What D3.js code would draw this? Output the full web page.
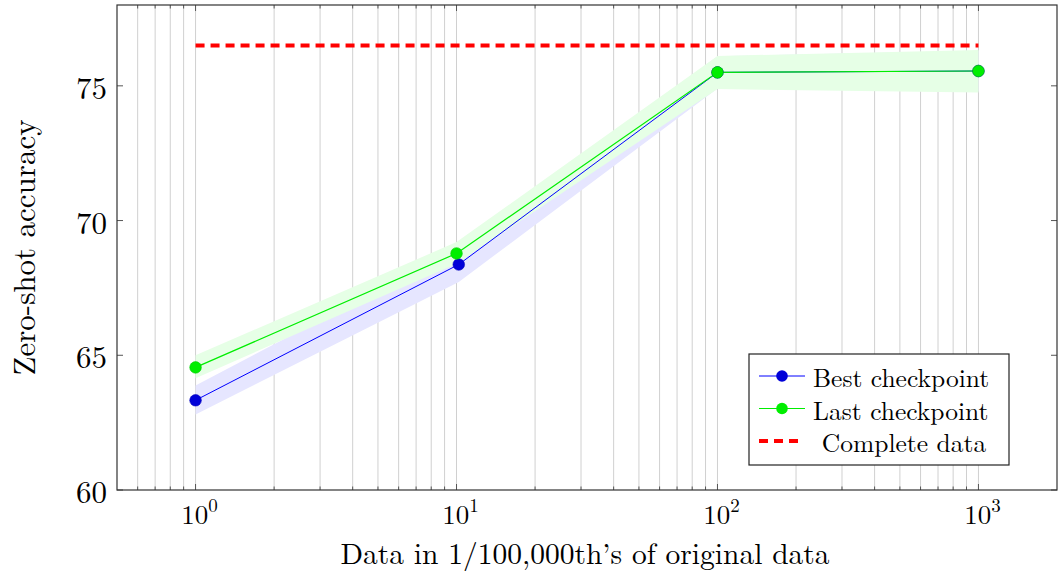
<!DOCTYPE html>
<html>
<head>
<meta charset="utf-8">
<script src="https://cdn.jsdelivr.net/npm/d3@7"></script>
<style>
  body { margin: 0; background: #fff; }
  text { font-family: "Latin Modern Roman", "DejaVu Serif", "Liberation Serif", serif; }
</style>
</head>
<body>
<div id="chart"></div>
<script>
// data
const xBest = [1, 10.2, 100, 1000];
const best = [63.33, 68.37, 75.5, 75.55];
const bestLow = [62.8, 67.72, 74.9, 74.8];
const bestHigh = [63.88, 69.0, 76.1, 76.3];

const xLast = [1, 10, 100, 1000];
const last = [64.55, 68.78, 75.5, 75.55];
const lastLow = [64.15, 68.4, 74.88, 74.75];
const lastHigh = [65.0, 69.2, 76.11, 76.33];

const completeX = [1, 1000];
const completeY = 76.5;

const yTicks = [60, 65, 70, 75];
const xTicks = [1, 10, 100, 1000];
const legendLabels = ["Best checkpoint", "Last checkpoint", "Complete data"];

const width = 1059, height = 574;
const margin = {top: 5, right: 2, bottom: 84, left: 117};
const visWidth = width - margin.left - margin.right;
const visHeight = height - margin.top - margin.bottom;

const svg = d3.select("#chart").append("svg")
  .attr("width", width)
  .attr("height", height);

const g = svg.append("g")
  .attr("transform", `translate(${margin.left},${margin.top})`);

const x = d3.scaleLog().domain([0.5, 2000]).range([0, visWidth]);
const y = d3.scaleLinear().domain([60, 78]).range([visHeight, 0]);

// vertical grid, major + minor
const gridVals = [];
for (let e = -1; e <= 3; e++) {
  for (let m = 1; m <= 9; m++) {
    const v = m * Math.pow(10, e);
    if (v > 0.5 && v < 2000) gridVals.push(v);
  }
}
g.append("g").selectAll("line")
  .data(gridVals)
  .join("line")
  .attr("x1", d => x(d)).attr("x2", d => x(d))
  .attr("y1", 0).attr("y2", visHeight)
  .attr("stroke", "#d0d0d0")
  .attr("stroke-width", 1);

// tick marks on frame (inward)
const ticks = g.append("g").attr("stroke", "#555").attr("stroke-width", 1);
gridVals.forEach(v => {
  const len = xTicks.includes(v) ? 6 : 3.5;
  ticks.append("line").attr("x1", x(v)).attr("x2", x(v)).attr("y1", visHeight).attr("y2", visHeight - len);
  ticks.append("line").attr("x1", x(v)).attr("x2", x(v)).attr("y1", 0).attr("y2", len);
});
yTicks.forEach(v => {
  ticks.append("line").attr("x1", 0).attr("x2", 6).attr("y1", y(v)).attr("y2", y(v));
  ticks.append("line").attr("x1", visWidth).attr("x2", visWidth - 6).attr("y1", y(v)).attr("y2", y(v));
});

// bands
const bestRows = xBest.map((d, i) => ({x: d, y: best[i], lo: bestLow[i], hi: bestHigh[i]}));
const lastRows = xLast.map((d, i) => ({x: d, y: last[i], lo: lastLow[i], hi: lastHigh[i]}));

const area = d3.area()
  .x(d => x(d.x))
  .y0(d => y(d.lo))
  .y1(d => y(d.hi));

g.append("path").datum(bestRows).attr("d", area).attr("fill", "#e6e6ff");
g.append("path").datum(lastRows).attr("d", area).attr("fill", "#e6ffe6");

// complete data line
g.append("line")
  .attr("x1", x(completeX[0])).attr("x2", x(completeX[1]))
  .attr("y1", y(completeY)).attr("y2", y(completeY))
  .attr("stroke", "#ff0000")
  .attr("stroke-width", 4)
  .attr("stroke-dasharray", "9,6");

const line = d3.line().x(d => x(d.x)).y(d => y(d.y));

g.append("path").datum(bestRows).attr("d", line)
  .attr("fill", "none").attr("stroke", "#0000ff").attr("stroke-width", 1);
g.append("path").datum(lastRows).attr("d", line)
  .attr("fill", "none").attr("stroke", "#00ee00").attr("stroke-width", 1.2);

g.append("g").selectAll("circle")
  .data(bestRows).join("circle")
  .attr("cx", d => x(d.x)).attr("cy", d => y(d.y)).attr("r", 5.8)
  .attr("fill", "#0000d8").attr("stroke", "#0000bb").attr("stroke-width", 0.6);
g.append("g").selectAll("circle")
  .data(lastRows).join("circle")
  .attr("cx", d => x(d.x)).attr("cy", d => y(d.y)).attr("r", 5.8)
  .attr("fill", "#00ee00").attr("stroke", "#00cc00").attr("stroke-width", 0.6);

// frame
g.append("rect")
  .attr("width", visWidth).attr("height", visHeight)
  .attr("fill", "none").attr("stroke", "#333").attr("stroke-width", 1.2);

// y tick labels
g.append("g").selectAll("text")
  .data(yTicks).join("text")
  .attr("x", -10).attr("y", d => y(d))
  .attr("text-anchor", "end")
  .attr("dominant-baseline", "central")
  .attr("font-size", 31)
  .text(d => d);

// x tick labels 10^n
const xl = g.append("g").selectAll("text")
  .data(xTicks).join("text")
  .attr("x", d => x(d) + 4)
  .attr("y", visHeight + 34)
  .attr("text-anchor", "middle")
  .attr("font-size", 27);
xl.append("tspan").text("10");
xl.append("tspan")
  .attr("dy", -12)
  .attr("font-size", 19)
  .text(d => Math.round(Math.log10(d)));

// axis titles
g.append("text")
  .attr("x", visWidth / 2 - 2)
  .attr("y", visHeight + 74)
  .attr("text-anchor", "middle")
  .attr("font-size", 29.5)
  .text("Data in 1/100,000th\u2019s of original data");

g.append("text")
  .attr("transform", `translate(${-82},${visHeight / 2}) rotate(-90)`)
  .attr("text-anchor", "middle")
  .attr("font-size", 31)
  .text("Zero-shot accuracy");

// legend
const legend = svg.append("g").attr("transform", "translate(749,354)");
legend.append("rect")
  .attr("width", 260).attr("height", 111)
  .attr("fill", "#fff").attr("stroke", "#222").attr("stroke-width", 1.2);

const legendColors = [["#0000ff", "#0000d8"], ["#00ee00", "#00ee00"]];
legendLabels.forEach((lab, i) => {
  const ly = 22 + i * 32.5;
  if (i < 2) {
    legend.append("line")
      .attr("x1", 10).attr("x2", 56).attr("y1", ly).attr("y2", ly)
      .attr("stroke", legendColors[i][0]).attr("stroke-width", 1);
    legend.append("circle")
      .attr("cx", 33).attr("cy", ly).attr("r", 5.8)
      .attr("fill", legendColors[i][1]);
    legend.append("text")
      .attr("x", 64).attr("y", ly)
      .attr("dominant-baseline", "central")
      .attr("font-size", 25.5)
      .text(lab);
  } else {
    legend.append("line")
      .attr("x1", 10).attr("x2", 50).attr("y1", ly).attr("y2", ly)
      .attr("stroke", "#ff0000").attr("stroke-width", 4)
      .attr("stroke-dasharray", "9,6");
    legend.append("text")
      .attr("x", 155).attr("y", ly)
      .attr("text-anchor", "middle")
      .attr("dominant-baseline", "central")
      .attr("font-size", 25.5)
      .text(lab);
  }
});
</script>
</body>
</html>
